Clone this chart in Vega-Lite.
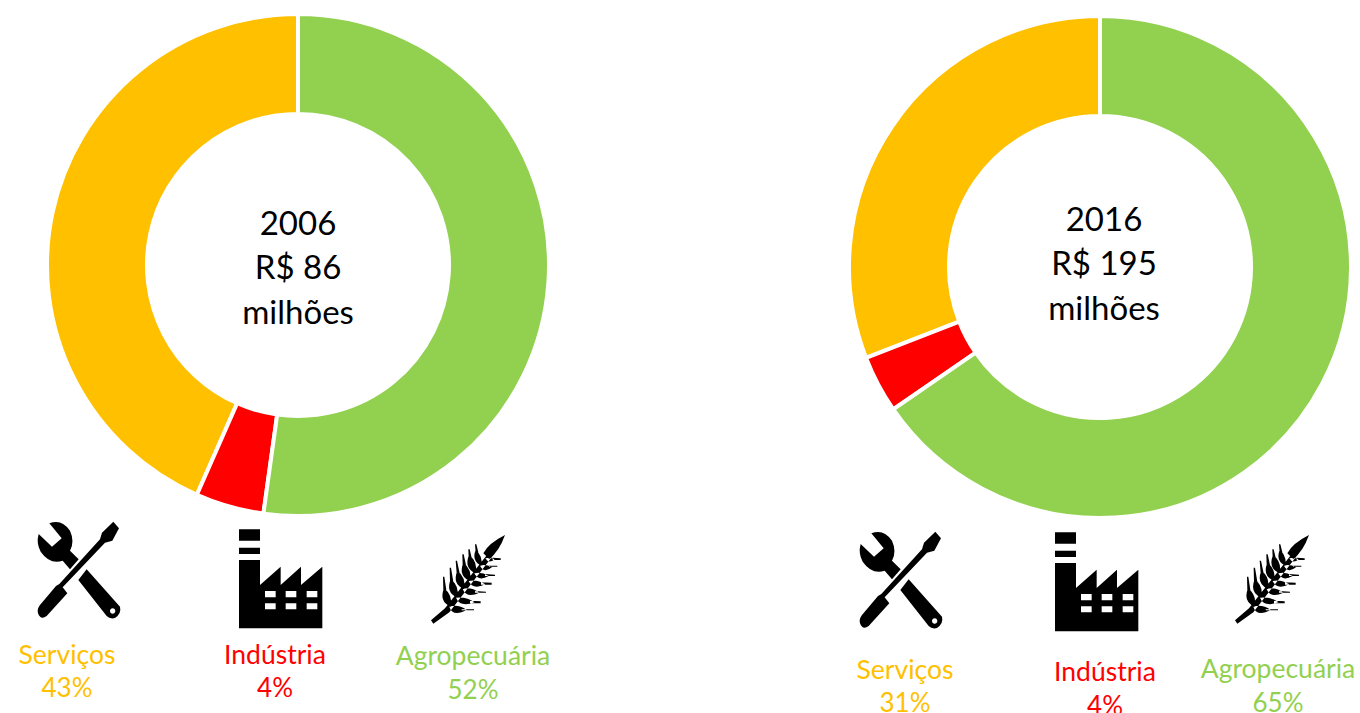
{
"$schema":"https://vega.github.io/schema/vega-lite/v6.json",
"width":1360,"height":713,"padding":0,"autosize":{"type":"none"},"background":"white",
"config":{"view":{"stroke":null},"font":"Lato"},
"datasets":{
"setores":[
{"ano":2006,"setor":"Serviços","valor":43.4,"rotulo":"43%","ordem":0},
{"ano":2006,"setor":"Indústria","valor":4.4,"rotulo":"4%","ordem":1},
{"ano":2006,"setor":"Agropecuária","valor":52.2,"rotulo":"52%","ordem":2},
{"ano":2016,"setor":"Serviços","valor":30.9,"rotulo":"31%","ordem":3},
{"ano":2016,"setor":"Indústria","valor":3.7,"rotulo":"4%","ordem":4},
{"ano":2016,"setor":"Agropecuária","valor":65.4,"rotulo":"65%","ordem":5}
],
"centros":[
{"ano":2006,"titulo":"2006\nR$ 86\nmilhões"},
{"ano":2016,"titulo":"2016\nR$ 195\nmilhões"}
]
},
"resolve":{"scale":{"x":"independent","y":"independent"}},
"layer":[
{"data":{"name":"setores"},
"transform":[{"stack":"valor","groupby":["ano"],"sort":[{"field":"ordem","order":"descending"}],"as":["inicio","fim"]}],
"mark":{"type":"arc","radius":251,"radius2":151,"stroke":"white","strokeWidth":4},
"encoding":{
"x":{"field":"ano","type":"quantitative","axis":null,"scale":{"domain":[2006,2016],"range":[298,1100]}},
"y":{"field":"ano","type":"quantitative","axis":null,"scale":{"domain":[2006,2016],"range":[265,267]}},
"theta":{"field":"inicio","type":"quantitative","stack":false,"scale":{"domain":[0,100]}},
"theta2":{"field":"fim"},
"color":{"field":"setor","type":"nominal","legend":null,"scale":{"domain":["Serviços","Indústria","Agropecuária"],"range":["#FFC000","#FF0000","#92D050"]}}
}},
{"data":{"name":"centros"},
"mark":{"type":"text","fontSize":33,"lineBreak":"\n","lineHeight":44.5,"align":"center","baseline":"middle","color":"black"},
"encoding":{
"x":{"field":"ano","type":"quantitative","axis":null,"scale":{"domain":[2006,2016],"range":[298,1104]}},
"y":{"field":"ano","type":"quantitative","axis":null,"scale":{"domain":[2006,2016],"range":[224.5,220.5]}},
"text":{"field":"titulo"}
}},
{"data":{"name":"setores"},
"mark":{"type":"point","filled":true,"size":0.4444,"color":"black","opacity":1,"strokeWidth":0},
"encoding":{
"x":{"field":"ordem","type":"quantitative","axis":null,"scale":{"domain":[0,1,2,3,4,5],"range":[20,225,420,842,1041,1224]}},
"y":{"field":"ordem","type":"quantitative","axis":null,"scale":{"domain":[0,1,2,3,4,5],"range":[510,520,525,520,523,525]}},
"shape":{"field":"setor","type":"nominal","legend":null,"scale":{"domain":["Serviços","Indústria","Agropecuária"],"range":[
"M88 40 Q125 25 150 62 Q165 95 150 122 L176 148 L150 178 L128 152 Q90 165 62 125 Q48 100 56 72 L96 110 L125 85 Z M200 178 L300 290 Q305 310 285 324 Q270 328 260 318 L175 210 Z M270 303 a8 8 0 1 0 16 0 a8 8 0 1 0 -16 0 Z M280 35 L297 55 L277 92 L255 98 L128 232 L142 250 L80 318 Q62 332 54 310 Q50 298 60 285 L108 228 L118 222 L240 88 L246 68 Z",
"M42 28 L105 28 L105 62 L42 62 Z M42 83 L105 83 L105 102 L42 102 Z M42 120 L105 120 L105 195 L167 140 L167 195 L228 140 L228 195 L292 140 L292 325 L42 325 Z M120 213 L120 232 L152 232 L152 213 Z M182 213 L182 232 L214 232 L214 213 Z M245 213 L245 232 L277 232 L277 213 Z M120 250 L120 268 L152 268 L152 250 Z M182 250 L182 268 L214 268 L214 250 Z M245 250 L245 268 L277 268 L277 250 Z",
"M33 286 L75 250 L215 72 L255 30 L225 84 L88 262 L40 296 Z M190 85 Q205 55 255 30 Q238 78 208 102 Z M92 245 q-36 -15 -20 -55 q27 20 20 55 Z M70 195 l-1 -40 l4 0 l6 40 Z M112 218 q-36 -15 -20 -55 q27 20 20 55 Z M90 170 l-1 -42 l4 0 l7 42 Z M132 192 q-36 -15 -20 -55 q27 20 20 55 Z M110 145 l-3 -38 l4 0 l8 38 Z M150 168 q-36 -15 -20 -55 q27 20 20 55 Z M128 120 l-1 -32 l4 0 l7 32 Z M167 145 q-36 -15 -20 -55 q27 20 20 55 Z M146 98 l-1 -25 l4 0 l6 25 Z M184 122 q-30 -14 -17 -47 q22 18 17 47 Z M167 82 l-2 -24 l4 0 l6 24 Z M88 245 q10 32 52 10 q-25 -18 -52 -10 Z M125 253 l37 0 l0 3 l-37 0 Z M108 218 q12 30 56 14 q-25 -18 -56 -14 Z M150 227 l32 2 l0 6 l-32 0 Z M128 192 q12 30 50 11 q-25 -18 -50 -11 Z M165 198 l33 2 l0 3 l-33 0 Z M146 168 q12 28 50 10 q-25 -16 -50 -10 Z M183 172 l32 1 l0 6 l-32 0 Z M163 145 q12 26 43 8 q-22 -14 -43 -8 Z M195 147 l30 2 l0 4 l-30 0 Z M180 122 q12 24 36 5 q-18 -10 -36 -5 Z M207 122 l25 0 l0 3 l-25 0 Z M196 100 q10 18 28 3 q-12 -8 -28 -3 Z M218 98 l24 2 l0 5 l-24 0 Z"
]}}
}},
{"data":{"name":"setores"},
"mark":{"type":"text","fontSize":26.5,"align":"center","baseline":"middle"},
"encoding":{
"x":{"field":"ordem","type":"quantitative","axis":null,"scale":{"domain":[0,1,2,3,4,5],"range":[67,275,473,905,1105,1278]}},
"y":{"field":"ordem","type":"quantitative","axis":null,"scale":{"domain":[0,1,2,3,4,5],"range":[655.5,655.5,657,670.5,672.5,669.5]}},
"text":{"field":"setor"},
"color":{"field":"setor","type":"nominal","legend":null}
}},
{"data":{"name":"setores"},
"mark":{"type":"text","fontSize":26,"align":"center","baseline":"middle"},
"encoding":{
"x":{"field":"ordem","type":"quantitative","axis":null,"scale":{"domain":[0,1,2,3,4,5],"range":[67,275,473,905,1105,1278]}},
"y":{"field":"ordem","type":"quantitative","axis":null,"scale":{"domain":[0,1,2,3,4,5],"range":[689,689,691,704,707,704]}},
"text":{"field":"rotulo"},
"color":{"field":"setor","type":"nominal","legend":null}
}}
]
}
